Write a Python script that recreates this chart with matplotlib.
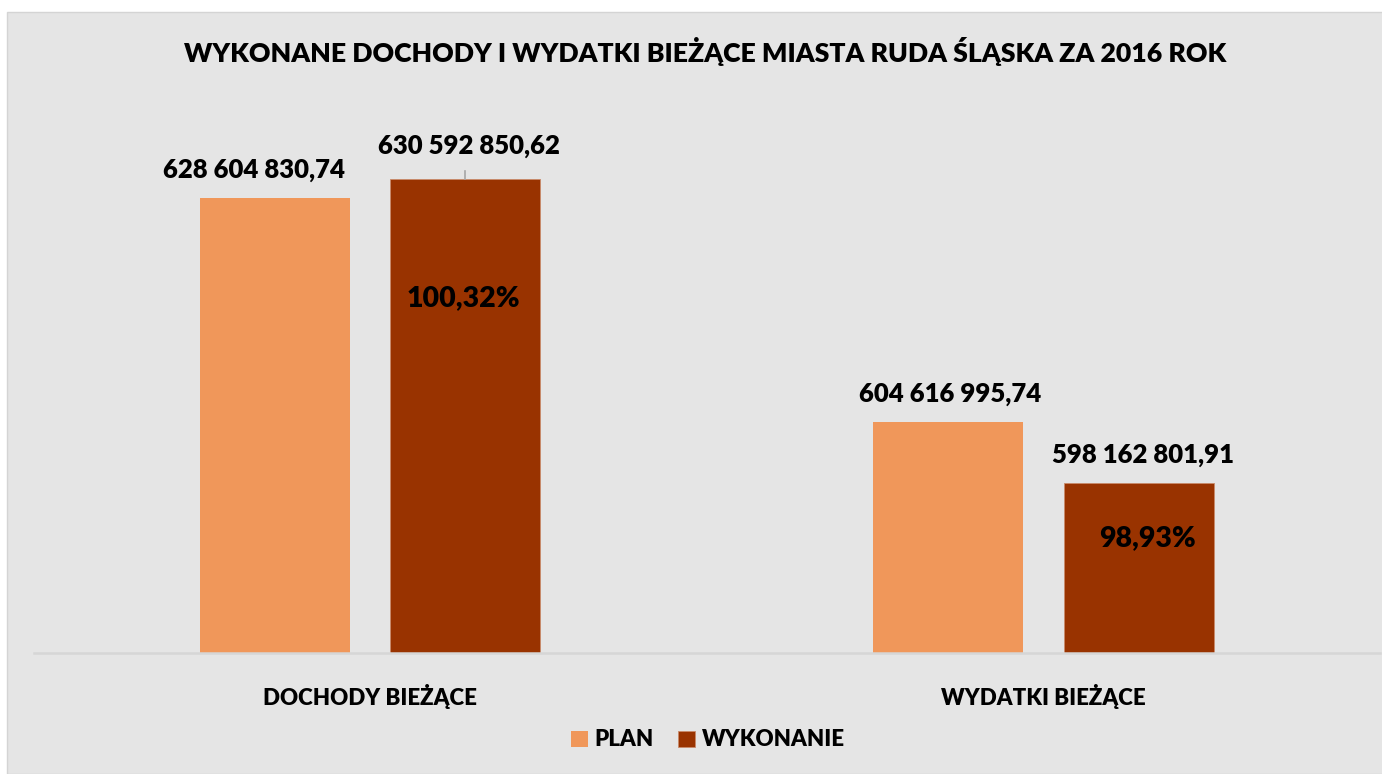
import matplotlib

matplotlib.use("Agg")
import matplotlib.pyplot as plt
import numpy as np
from matplotlib.patches import Rectangle

plt.rcParams["font.family"] = ["Lato", "DejaVu Sans"]

categories = ["DOCHODY BIEŻĄCE", "WYDATKI BIEŻĄCE"]
series = ["PLAN", "WYKONANIE"]
plan = [628604830.74, 604616995.74]
wykonanie = [630592850.62, 598162801.91]
plan_labels = ["628 604 830,74", "604 616 995,74"]
wyk_labels = ["630 592 850,62", "598 162 801,91"]
pct_labels = ["100,32%", "98,93%"]

C_PLAN = "#F0975A"
C_WYK = "#993300"
BG = "#E5E5E5"
WT = "heavy"

fig = plt.figure(figsize=(13.82, 7.74), dpi=100)
fig.patch.set_facecolor("white")
# gray chart panel with a white margin at top/left
fig.patches.append(Rectangle((7 / 1382, 0), 1, 1 - 12 / 774, transform=fig.transFigure,
                             facecolor=BG, edgecolor="#d4d4d4", lw=1.0, zorder=-5))

ax = fig.add_axes([33.5 / 1382, 1 - 653 / 774, (1380 - 33.5) / 1382, (653 - 91) / 774])
ax.set_facecolor("none")
ax.set_zorder(2)
x = np.arange(len(categories))
w = 0.223
off = 0.1415
scale = 1e6
b1 = ax.bar(x - off, np.array(plan) / scale, w, color=C_PLAN, label=series[0], zorder=2)
b2 = ax.bar(x + off, np.array(wykonanie) / scale, w, color=C_WYK, label=series[1],
            edgecolor="#C98A6A", lw=0.6, zorder=2)
ax.set_ylim(580, 640)
ax.set_xlim(-0.5, 1.5)

for s in ["top", "right", "left"]:
    ax.spines[s].set_visible(False)
ax.spines["bottom"].set_color("#D6D6D6")
ax.spines["bottom"].set_linewidth(1.8)
ax.set_yticks([])
ax.tick_params(axis="x", length=0, pad=22)
ax.set_xticks(x)
ax.set_xticklabels(categories, fontsize=16, fontweight=WT)

lab_kw = dict(ha="center", va="center", fontsize=18.5, fontweight=WT, color="black")
# first PLAN label sits a bit left of its bar
ax.annotate(plan_labels[0], (x[0] - off, plan[0] / scale), xytext=(-21, 28),
            textcoords="offset pixels", **lab_kw)
ax.annotate(plan_labels[1], (x[1] - off, plan[1] / scale), xytext=(2, 28),
            textcoords="offset pixels", **lab_kw)
# first WYKONANIE label is pushed up with a leader line
ax.annotate(wyk_labels[0], (x[0] + off, wykonanie[0] / scale), xytext=(4, 33),
            textcoords="offset pixels", **lab_kw)
ax.plot([x[0] + off, x[0] + off], [wykonanie[0] / scale, wykonanie[0] / scale + 8 / 9.37],
        color="#A6A6A6", lw=1.2, zorder=3)
ax.annotate(wyk_labels[1], (x[1] + off, wykonanie[1] / scale), xytext=(4, 28),
            textcoords="offset pixels", **lab_kw)

# percentage of plan executed, inside the dark bars
pct_kw = dict(lab_kw, fontsize=20.5)
ax.annotate(pct_labels[0], (x[0] + off, wykonanie[0] / scale), xytext=(-2, -119),
            textcoords="offset pixels", **pct_kw)
ax.annotate(pct_labels[1], (x[1] + off, wykonanie[1] / scale), xytext=(9, -55),
            textcoords="offset pixels", **pct_kw)

fig.text(705.5 / 1382, 1 - 52 / 774, "WYKONANE DOCHODY I WYDATKI BIEŻĄCE MIASTA RUDA ŚLĄSKA ZA 2016 ROK",
         ha="center", va="center", fontsize=19.2, fontweight=WT)

fig.legend(handles=[b1, b2], labels=series, loc="center", bbox_to_anchor=(708 / 1382, 1 - 740 / 774),
           ncol=2, frameon=False, prop={"weight": WT, "size": 16},
           handlelength=0.75, handleheight=0.75, columnspacing=1.1, handletextpad=0.3)

fig.savefig("out.png", dpi=100, facecolor=fig.get_facecolor())
